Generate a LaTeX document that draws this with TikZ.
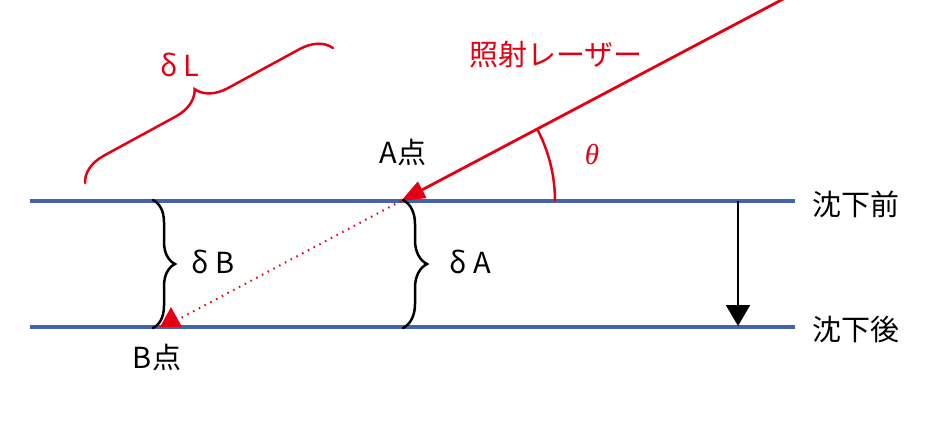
\documentclass[tikz,border=0pt]{standalone}
\usepackage{fontspec}
\setmainfont{Noto Sans CJK JP}
\newfontfamily\greekfont{Liberation Serif}
\usetikzlibrary{arrows.meta,decorations.pathreplacing,positioning}
\definecolor{lineblue}{RGB}{68,100,170}
\definecolor{laserred}{RGB}{228,0,18}

\begin{document}
\begin{tikzpicture}[x=1pt,y=1pt,
   level/.style={draw=lineblue,line width=4pt},
   brc/.style={decorate,decoration={brace,amplitude=#1},line width=2.5pt,line cap=round},
   lbl/.style={font=\fontsize{29}{29}\selectfont,inner sep=0pt}]
   \useasboundingbox (0,0) rectangle (936,445);
   % levels before and after
   \coordinate (t0) at (30,244);  \coordinate (t1) at (795,244);
   \coordinate (b0) at (30,118);  \coordinate (b1) at (795,118);
   \draw[level] (t0) -- (t1);
   \draw[level] (b0) -- (b1);
   \node[lbl,anchor=west] (before) at (812,241) {沈下前};
   \node[lbl,anchor=west] (after)  at (812,115) {沈下後};
   % settlement arrow
   \coordinate (s0) at (738,244); \coordinate (s1) at (738,119);
   \draw[line width=2pt,-{Triangle[length=21pt,width=24pt]}] (s0) -- (s1);
   % laser
   \coordinate (A) at (401,244);
   \coordinate (src) at (787,448);
   \coordinate (B) at (164,118);
   \draw[laserred,line width=2.8pt,-{Triangle[length=24pt,width=18pt]}] (src) -- (A);
   \draw[laserred,line width=2pt,dash pattern=on 1.5pt off 5pt] (A) -- (B);
   \fill[laserred] (160,118) -- (171,138) -- (182,118) -- cycle;
   \node[lbl,text=laserred] (laser) at (556,390) {照射レーザー};
   % angle
   \draw[laserred,line width=2.5pt] (A) ++(154,0) arc[start angle=0,end angle=27.9,radius=154];
   \node[lbl,text=laserred] (theta) at (592,290) {\greekfont\itshape θ};
   % points
   \node[lbl] (pA) at (403,293) {A点};
   \node[lbl] (pB) at (157,88) {B点};
   % braces
   \coordinate (dB0) at (153,245); \coordinate (dB1) at (153,117);
   \draw[brc=22pt] (dB0) -- (dB1);
   \node[lbl] (dB) at (213,183) {δ B};
   \coordinate (dA0) at (403,245); \coordinate (dA1) at (403,117);
   \draw[brc=24pt] (dA0) -- (dA1);
   \node[lbl] (dA) at (470,183) {δ A};
   \coordinate (dL0) at (85,262); \coordinate (dL1) at (333,397);
   \draw[brc=30pt,laserred] (dL0) -- (dL1);
   \node[lbl,text=laserred] (dL) at (180,380) {δ L};
\end{tikzpicture}
\end{document}
